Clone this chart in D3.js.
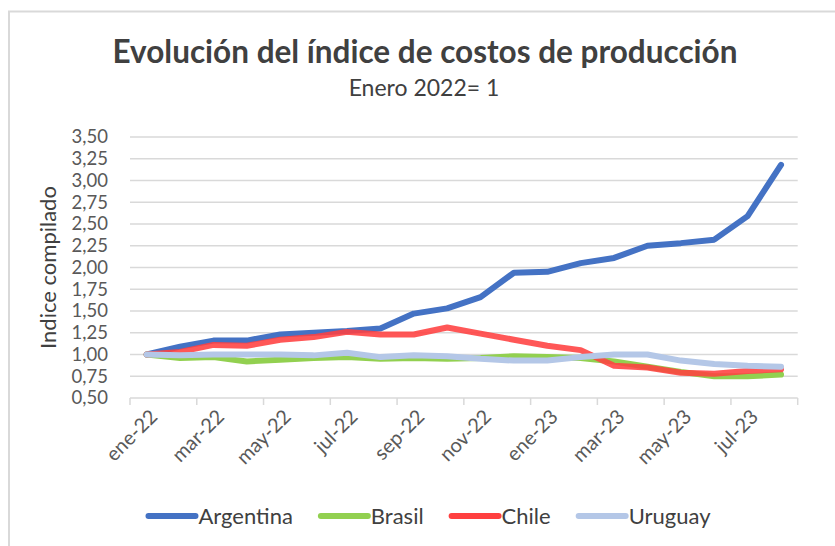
<!DOCTYPE html>
<html><head><meta charset="utf-8">
<script src="https://cdn.jsdelivr.net/npm/d3@7"></script>
<style>
html,body{margin:0;padding:0;background:#fff;}
svg{display:block;font-family:Lato,"Open Sans",sans-serif;}
</style></head>
<body>
<svg id="c" width="835" height="546"></svg>
<script>
const categories = ["ene-22","feb-22","mar-22","abr-22","may-22","jun-22","jul-22","ago-22","sep-22","oct-22","nov-22","dic-22","ene-23","feb-23","mar-23","abr-23","may-23","jun-23","jul-23","ago-23"];
const argentina = [1.00,1.09,1.16,1.16,1.23,1.25,1.27,1.30,1.47,1.53,1.66,1.94,1.95,2.05,2.11,2.25,2.28,2.32,2.59,3.18];
const brasil    = [1.00,0.96,0.97,0.92,0.94,0.96,0.97,0.95,0.96,0.95,0.96,0.98,0.97,0.96,0.92,0.86,0.80,0.75,0.75,0.77];
const chile     = [1.00,1.03,1.11,1.10,1.17,1.20,1.26,1.23,1.23,1.31,1.24,1.17,1.10,1.05,0.87,0.85,0.79,0.78,0.81,0.83];
const uruguay   = [1.00,0.99,1.00,1.00,1.00,0.99,1.02,0.97,0.99,0.98,0.95,0.93,0.93,0.97,1.00,1.00,0.93,0.89,0.87,0.86];
const yTicks = [0.50,0.75,1.00,1.25,1.50,1.75,2.00,2.25,2.50,2.75,3.00,3.25,3.50];
const seriesNames = ["Argentina","Brasil","Chile","Uruguay"];
const seriesData = [argentina, brasil, chile, uruguay];
const colors = ["#4472C4","#92D050","#FF4040","#B4C7E7"];
const opac = [1,1,0.88,1];

const svg = d3.select("#c");
const L = 130, R = 797.7, T = 137, B = 398;

// frame
svg.append("rect").attr("x",9).attr("y",11.5).attr("width",900).attr("height",600)
  .attr("fill","none").attr("stroke","#d9d9d9").attr("stroke-width",2);

const x = d3.scaleBand().domain(categories).range([L,R]);
const y = d3.scaleLinear().domain([0.5,3.5]).range([B,T]);
const cx = c => x(c) + x.bandwidth()/2;

// gridlines
svg.append("g").selectAll("line").data(yTicks.slice(1)).join("line")
  .attr("x1",L).attr("x2",R).attr("y1",d=>y(d)).attr("y2",d=>y(d))
  .attr("stroke","#d9d9d9").attr("stroke-width",1.5);

// y labels
const yAxis = d3.axisLeft(y).tickValues(yTicks).tickSize(0).tickPadding(22)
  .tickFormat(d => d.toFixed(2).replace(".",","));
const gy = svg.append("g").attr("transform",`translate(${L},0)`).call(yAxis);
gy.select(".domain").remove();
gy.selectAll("text").attr("font-size",18.5).attr("fill","#595959").attr("font-family","Lato");

// x axis line + ticks
svg.append("line").attr("x1",L).attr("x2",R).attr("y1",B).attr("y2",B)
  .attr("stroke","#d9d9d9").attr("stroke-width",1.5);
const tickPos = categories.filter((c,i)=>i%2===0).map(c=>x(c)).concat([R]);
svg.append("g").selectAll("line").data(tickPos).join("line")
  .attr("x1",d=>d).attr("x2",d=>d).attr("y1",B).attr("y2",B+7)
  .attr("stroke","#d9d9d9").attr("stroke-width",1.5);
svg.append("g").selectAll("text").data(categories.filter((c,i)=>i%2===0)).join("text")
  .attr("transform",d=>`translate(${cx(d)+7},${B+15}) rotate(-45)`)
  .attr("text-anchor","end").attr("dy","0.35em")
  .attr("font-size",20).attr("fill","#595959").text(d=>d);

// lines
const line = d3.line().x((d,i)=>cx(categories[i])).y(d=>y(d));
seriesData.forEach((s,k)=>{
  svg.append("path").datum(s).attr("d",line).attr("fill","none")
    .attr("stroke",colors[k]).attr("stroke-width",6).attr("stroke-opacity",opac[k])
    .attr("stroke-linejoin","round").attr("stroke-linecap","round");
});

// titles
svg.append("text").attr("x",425).attr("y",63).attr("text-anchor","middle")
  .attr("font-size",31.5).attr("font-weight","bold").attr("fill","#404040")
  .text("Evolución del índice de costos de producción");
svg.append("text").attr("x",424).attr("y",96).attr("text-anchor","middle")
  .attr("font-size",23).attr("fill","#404040").text("Enero 2022= 1");
svg.append("text").attr("transform",`translate(56,${(T+B)/2}) rotate(-90)`)
  .attr("text-anchor","middle").attr("font-size",22).attr("fill","#404040").text("Indice compilado");

// legend
const lg = svg.append("g");
let xx = 0;
seriesNames.forEach((n,k)=>{
  const g = lg.append("g").attr("transform",`translate(${xx},0)`);
  g.append("line").attr("x1",3).attr("x2",50).attr("y1",0).attr("y2",0)
    .attr("stroke",colors[k]).attr("stroke-width",6).attr("stroke-linecap","round");
  const t = g.append("text").attr("x",53).attr("dy","0.35em").attr("font-size",22)
    .attr("fill","#404040").text(n);
  xx += 53 + t.node().getComputedTextLength() + 25;
});
const totalW = xx - 25;
lg.attr("transform",`translate(${428 - totalW/2},516)`);
</script>
</body></html>
